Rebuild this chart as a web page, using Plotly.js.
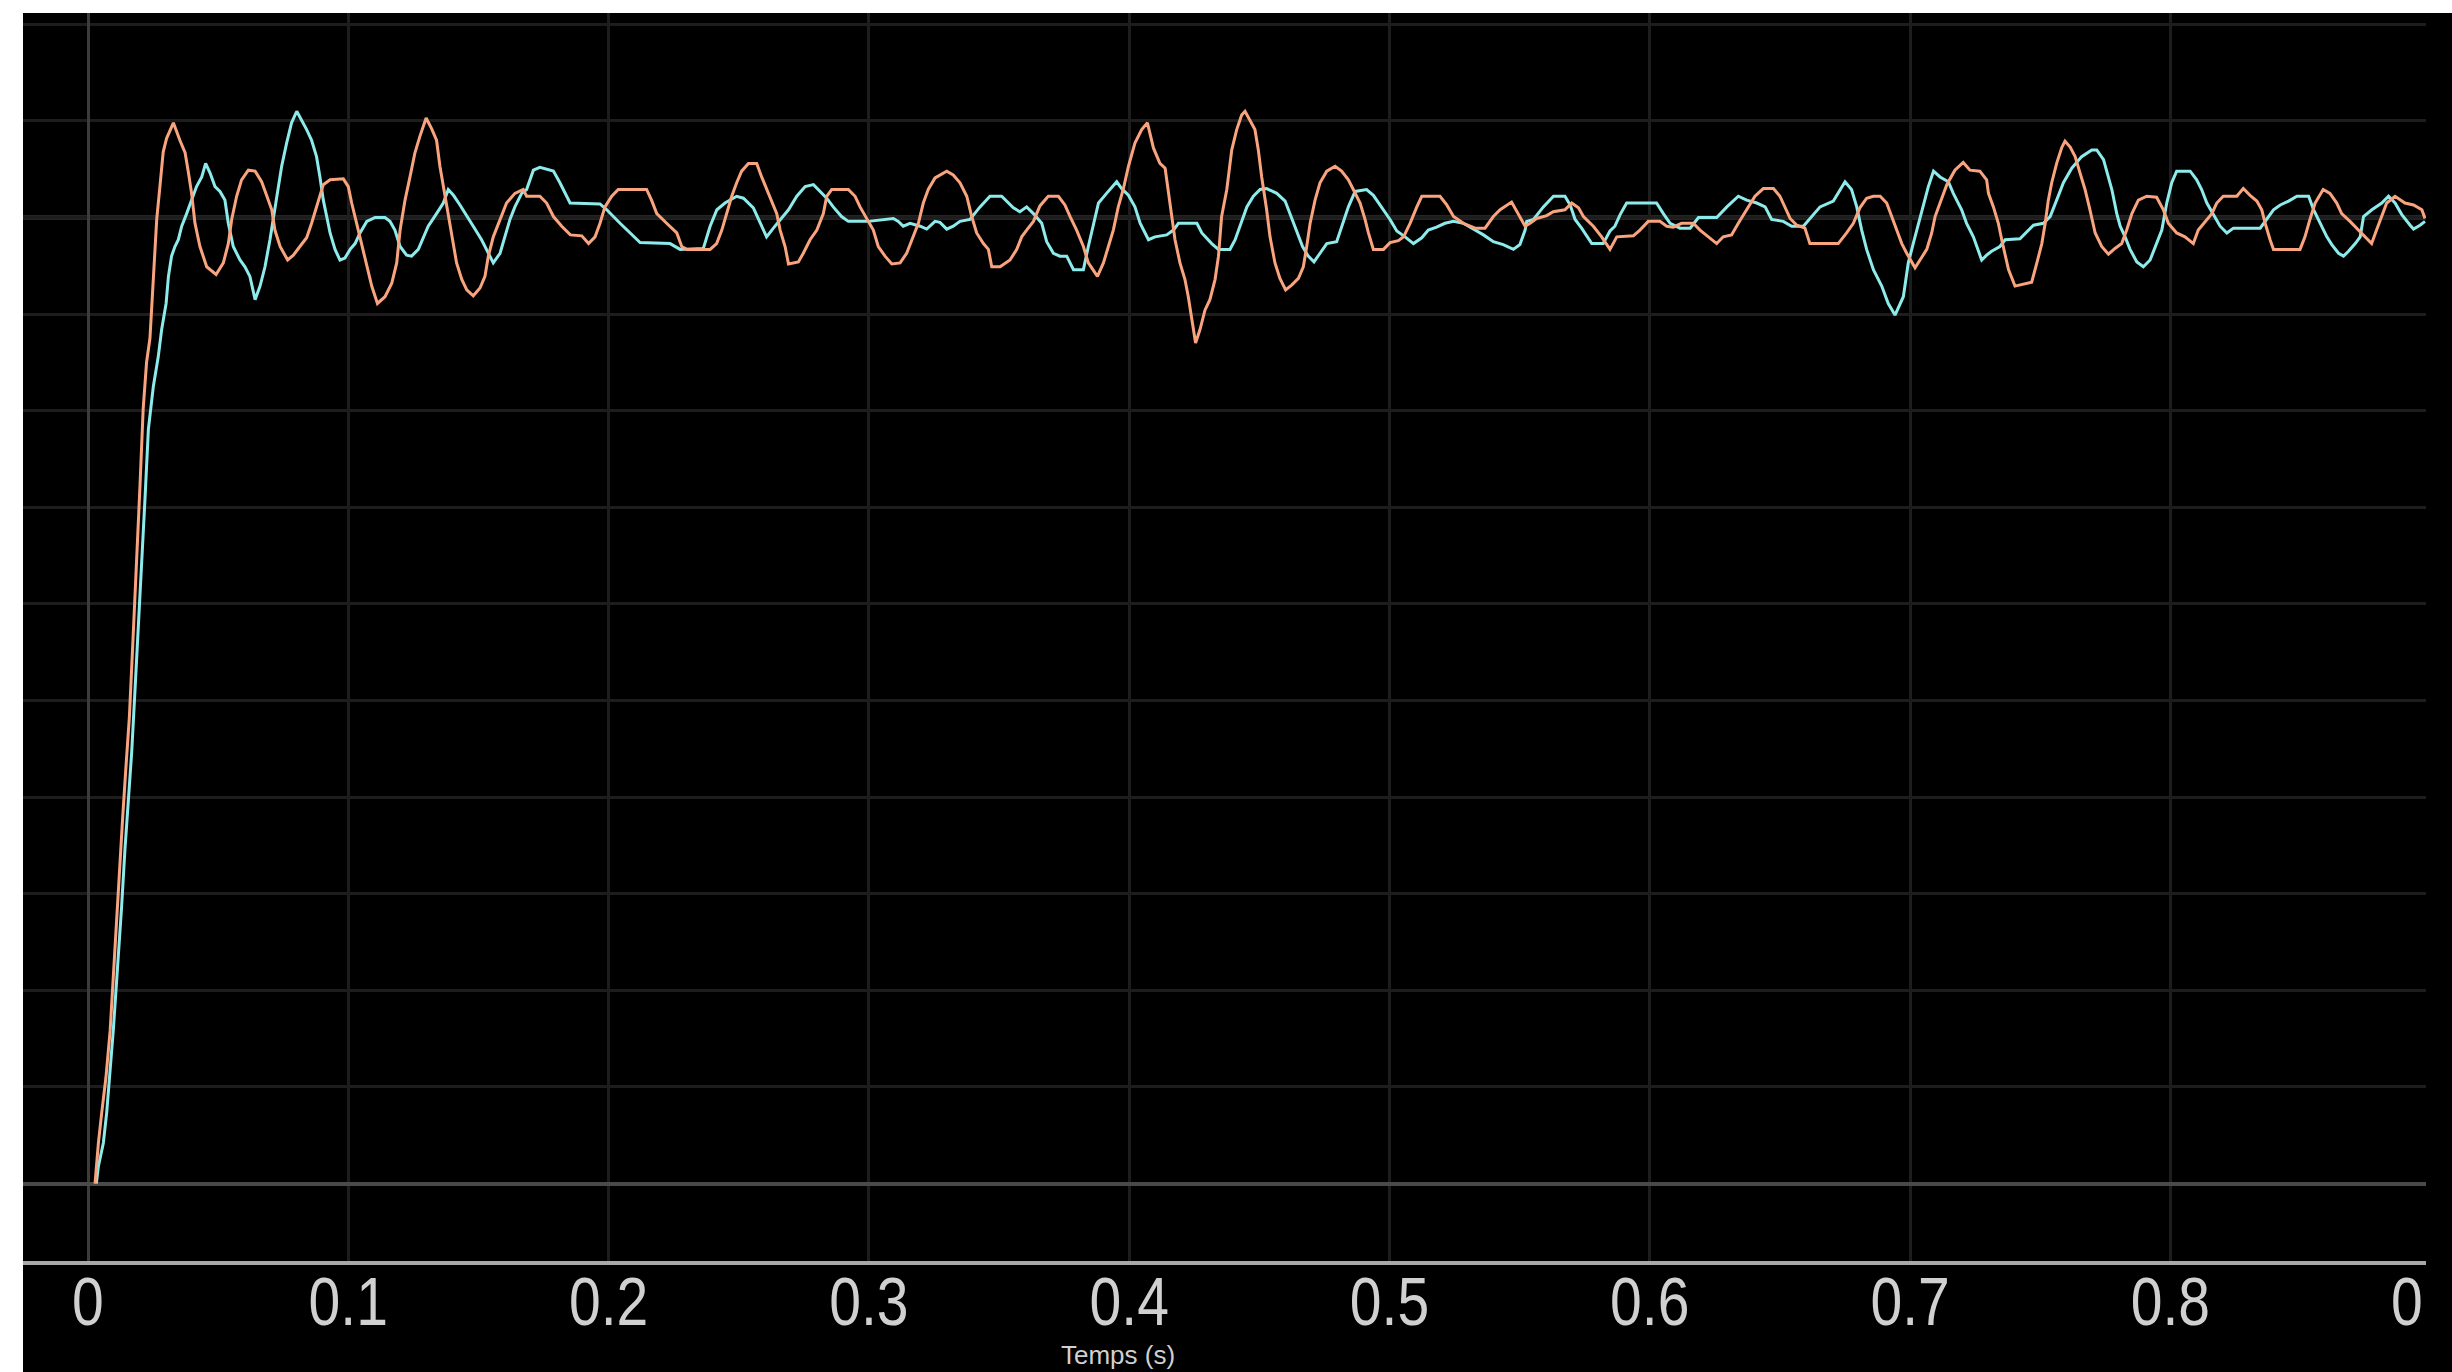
<!DOCTYPE html>
<html>
<head>
<meta charset="utf-8">
<script src="https://cdn.plot.ly/plotly-3.0.1.min.js"></script>
<style>
  html, body { margin: 0; padding: 0; background: #ffffff; overflow: hidden; }
  #bg { position: absolute; left: 23px; top: 13px; right: 0; bottom: 0; background: #000; }
  #clip { position: absolute; left: 23px; top: 13px; width: 2403px; height: 1359px; overflow: hidden; }
  #chart { width: 2440px; height: 1359px; }
</style>
</head>
<body>
<div id="bg"></div>
<div id="clip"><div id="chart"></div></div>
<script>
// ---- Data ----
const xTickStep = 0.1;
const setpoint = 1;
const xAxisTitle = "Temps (s)";

// Series 1 (orange)
const tOrange = [
0.0027,0.0040,0.0053,0.0069,0.0085,0.0097,0.0110,0.0120,0.0133,0.0146,0.0159,0.0172,0.0187,0.0200,0.0212,0.0225,0.0238,
0.0251,0.0264,0.0277,0.0289,0.0302,0.0328,0.0353,0.0373,0.0385,0.0398,0.0411,0.0430,0.0456,0.0492,0.0520,0.0539,0.0552,
0.0571,0.0590,0.0616,0.0642,0.0667,0.0686,0.0706,0.0718,0.0738,0.0767,0.0789,0.0814,0.0840,0.0859,0.0878,0.0904,0.0930,
0.0981,0.1000,0.1013,0.1032,0.1051,0.1071,0.1090,0.1112,0.1141,0.1167,0.1186,0.1199,0.1218,0.1237,0.1256,0.1275,0.1299,
0.1320,0.1339,0.1352,0.1365,0.1378,0.1397,0.1416,0.1436,0.1455,0.1480,0.1506,0.1525,0.1538,0.1557,0.1583,0.1608,0.1640,
0.1672,0.1685,0.1736,0.1762,0.1788,0.1820,0.1853,0.1897,0.1923,0.1948,0.1967,0.1986,0.2012,0.2037,0.2146,0.2165,0.2185,
0.2223,0.2262,0.2281,0.2300,0.2390,0.2415,0.2435,0.2454,0.2473,0.2492,0.2511,0.2537,0.2569,0.2588,0.2607,0.2627,0.2646,
0.2659,0.2678,0.2691,0.2729,0.2748,0.2774,0.2800,0.2825,0.2838,0.2857,0.2921,0.2947,0.2966,0.2991,0.3017,0.3036,0.3062,
0.3088,0.3120,0.3145,0.3171,0.3190,0.3209,0.3228,0.3254,0.3299,0.3324,0.3350,0.3376,0.3395,0.3414,0.3440,0.3459,0.3472,
0.3504,0.3542,0.3568,0.3587,0.3606,0.3632,0.3657,0.3689,0.3728,0.3753,0.3773,0.3798,0.3824,0.3843,0.3878,0.3901,0.3920,
0.3939,0.3958,0.3977,0.3997,0.4022,0.4048,0.4070,0.4093,0.4118,0.4138,0.4150,0.4163,0.4176,0.4195,0.4214,0.4227,0.4240,
0.4255,0.4272,0.4291,0.4310,0.4330,0.4343,0.4355,0.4375,0.4394,0.4413,0.4432,0.4445,0.4464,0.4483,0.4496,0.4509,0.4528,
0.4541,0.4560,0.4579,0.4601,0.4624,0.4650,0.4669,0.4682,0.4695,0.4714,0.4733,0.4759,0.4791,0.4816,0.4842,0.4861,0.4887,
0.4906,0.4919,0.4938,0.4977,0.5002,0.5034,0.5054,0.5079,0.5105,0.5124,0.5194,0.5220,0.5246,0.5284,0.5329,0.5367,0.5399,
0.5425,0.5469,0.5495,0.5521,0.5540,0.5565,0.5604,0.5629,0.5674,0.5700,0.5726,0.5745,0.5783,0.5815,0.5847,0.5873,0.5937,
0.5962,0.5994,0.6039,0.6065,0.6090,0.6122,0.6167,0.6193,0.6225,0.6257,0.6282,0.6314,0.6340,0.6372,0.6404,0.6436,0.6475,
0.6500,0.6520,0.6539,0.6565,0.6596,0.6615,0.6724,0.6756,0.6782,0.6807,0.6833,0.6859,0.6885,0.6910,0.6929,0.6948,0.6968,
0.6987,0.7019,0.7038,0.7064,0.7083,0.7096,0.7115,0.7141,0.7172,0.7204,0.7230,0.7268,0.7294,0.7301,0.7320,0.7339,0.7352,
0.7365,0.7378,0.7403,0.7467,0.7487,0.7506,0.7519,0.7531,0.7544,0.7563,0.7582,0.7595,0.7615,0.7634,0.7653,0.7672,0.7691,
0.7711,0.7736,0.7762,0.7787,0.7813,0.7832,0.7852,0.7877,0.7909,0.7947,0.7973,0.7992,0.8024,0.8056,0.8088,0.8107,0.8133,
0.8159,0.8178,0.8203,0.8255,0.8280,0.8306,0.8332,0.8351,0.8364,0.8383,0.8396,0.8498,0.8517,0.8536,0.8556,0.8587,0.8613,
0.8639,0.8658,0.8690,0.8716,0.8747,0.8773,0.8792,0.8812,0.8831,0.8863,0.8901,0.8934,0.8966,0.8978
];
const yOrange = [
0.000,0.042,0.074,0.110,0.158,0.215,0.271,0.325,0.378,0.432,0.483,0.558,0.643,0.724,0.802,0.850,0.875,
0.934,0.998,1.034,1.068,1.082,1.098,1.080,1.067,1.048,1.025,0.994,0.970,0.949,0.941,0.953,0.973,0.998,
1.022,1.039,1.049,1.048,1.037,1.023,1.008,0.987,0.970,0.956,0.961,0.970,0.979,0.994,1.011,1.034,1.039,
1.040,1.032,1.015,0.994,0.973,0.949,0.929,0.911,0.918,0.932,0.953,0.987,1.018,1.042,1.067,1.084,1.103,
1.092,1.080,1.053,1.032,1.011,0.984,0.953,0.936,0.925,0.919,0.927,0.939,0.960,0.980,0.998,1.015,1.025,
1.029,1.022,1.022,1.015,1.001,0.991,0.982,0.981,0.973,0.980,0.994,1.011,1.022,1.029,1.029,1.018,1.004,
0.994,0.984,0.970,0.967,0.967,0.973,0.987,1.004,1.022,1.036,1.048,1.056,1.056,1.042,1.029,1.015,1.004,
0.987,0.970,0.952,0.954,0.963,0.977,0.987,1.004,1.022,1.029,1.029,1.022,1.011,0.999,0.987,0.970,0.960,
0.952,0.953,0.963,0.980,0.994,1.015,1.029,1.041,1.048,1.044,1.036,1.022,1.001,0.984,0.973,0.967,0.949,
0.949,0.956,0.967,0.980,0.987,0.996,1.012,1.022,1.022,1.013,1.001,0.987,0.970,0.953,0.939,0.953,0.970,
0.987,1.011,1.029,1.053,1.077,1.091,1.098,1.072,1.056,1.051,1.029,1.001,0.977,0.953,0.936,0.918,0.894,
0.870,0.884,0.904,0.915,0.936,0.960,1.001,1.029,1.070,1.091,1.106,1.110,1.101,1.091,1.070,1.042,1.008,
0.980,0.953,0.937,0.925,0.930,0.937,0.949,0.970,0.994,1.018,1.036,1.048,1.053,1.048,1.039,1.029,1.015,
0.998,0.984,0.967,0.967,0.974,0.976,0.980,0.994,1.011,1.022,1.022,1.013,1.001,0.994,0.989,0.989,1.001,
1.008,1.016,1.004,0.991,0.994,0.999,1.002,1.006,1.008,1.015,1.010,1.001,0.991,0.980,0.967,0.980,0.981,
0.987,0.996,0.996,0.991,0.990,0.994,0.994,0.987,0.980,0.973,0.980,0.982,0.994,1.008,1.022,1.030,1.030,
1.022,1.011,0.999,0.992,0.989,0.973,0.973,0.984,0.994,1.010,1.020,1.022,1.022,1.015,1.001,0.987,0.973,
0.963,0.948,0.956,0.967,0.984,1.001,1.015,1.034,1.049,1.057,1.049,1.048,1.039,1.025,1.011,0.994,0.977,
0.963,0.946,0.929,0.933,0.953,0.973,0.994,1.018,1.036,1.056,1.072,1.079,1.073,1.063,1.046,1.029,1.008,
0.984,0.970,0.962,0.968,0.973,0.987,1.004,1.018,1.022,1.021,1.008,0.994,0.984,0.980,0.973,0.987,0.996,
1.004,1.015,1.022,1.022,1.030,1.023,1.017,1.008,0.994,0.977,0.967,0.967,0.980,0.998,1.015,1.029,1.025,
1.015,1.004,0.996,0.989,0.980,0.973,0.987,1.001,1.015,1.022,1.015,1.013,1.008,0.999
];

// Series 2 (cyan)
const tCyan = [
0.0032,0.0040,0.0059,0.0072,0.0097,0.0116,0.0129,0.0142,0.0155,0.0168,0.0181,0.0193,0.0206,0.0219,0.0232,0.0251,0.0270,
0.0283,0.0300,0.0309,0.0321,0.0334,0.0347,0.0360,0.0379,0.0398,0.0417,0.0437,0.0452,0.0469,0.0488,0.0507,0.0526,0.0539,
0.0558,0.0584,0.0603,0.0622,0.0642,0.0661,0.0680,0.0699,0.0712,0.0731,0.0744,0.0763,0.0782,0.0802,0.0821,0.0840,0.0859,
0.0878,0.0891,0.0904,0.0917,0.0930,0.0949,0.0968,0.0987,0.1007,0.1026,0.1045,0.1071,0.1103,0.1141,0.1160,0.1179,0.1199,
0.1224,0.1243,0.1269,0.1288,0.1307,0.1339,0.1365,0.1384,0.1404,0.1429,0.1455,0.1480,0.1512,0.1532,0.1557,0.1583,0.1602,
0.1621,0.1640,0.1666,0.1685,0.1711,0.1736,0.1788,0.1813,0.1852,0.1967,0.1993,0.2044,0.2121,0.2236,0.2275,0.2364,0.2390,
0.2416,0.2447,0.2492,0.2518,0.2556,0.2582,0.2607,0.2633,0.2659,0.2691,0.2723,0.2755,0.2787,0.2812,0.2838,0.2863,0.2895,
0.2921,0.2998,0.3094,0.3113,0.3132,0.3158,0.3197,0.3222,0.3254,0.3273,0.3299,0.3324,0.3350,0.3388,0.3427,0.3465,0.3510,
0.3555,0.3580,0.3606,0.3632,0.3664,0.3683,0.3709,0.3734,0.3760,0.3786,0.3824,0.3843,0.3862,0.3882,0.3913,0.3952,0.3971,
0.3997,0.4022,0.4042,0.4074,0.4099,0.4144,0.4170,0.4189,0.4260,0.4279,0.4317,0.4343,0.4387,0.4407,0.4426,0.4452,0.4477,
0.4503,0.4528,0.4567,0.4599,0.4618,0.4643,0.4666,0.4688,0.4710,0.4733,0.4759,0.4797,0.4816,0.4842,0.4868,0.4912,0.4938,
0.4970,0.5002,0.5028,0.5060,0.5092,0.5124,0.5149,0.5181,0.5213,0.5246,0.5284,0.5335,0.5361,0.5399,0.5437,0.5476,0.5501,
0.5521,0.5527,0.5553,0.5591,0.5630,0.5674,0.5694,0.5713,0.5738,0.5777,0.5821,0.5847,0.5866,0.5886,0.5911,0.6026,0.6052,
0.6078,0.6116,0.6155,0.6187,0.6257,0.6296,0.6340,0.6372,0.6411,0.6443,0.6468,0.6513,0.6545,0.6590,0.6628,0.6654,0.6705,
0.6731,0.6750,0.6775,0.6795,0.6814,0.6833,0.6859,0.6891,0.6916,0.6942,0.6974,0.6993,0.7012,0.7032,0.7051,0.7070,0.7090,
0.7115,0.7147,0.7166,0.7198,0.7217,0.7243,0.7275,0.7294,0.7313,0.7345,0.7365,0.7422,0.7474,0.7512,0.7538,0.7563,0.7589,
0.7621,0.7659,0.7698,0.7717,0.7743,0.7762,0.7775,0.7794,0.7807,0.7826,0.7845,0.7871,0.7896,0.7922,0.7948,0.7967,0.7986,
0.8005,0.8024,0.8076,0.8101,0.8120,0.8140,0.8165,0.8191,0.8217,0.8242,0.8345,0.8371,0.8396,0.8422,0.8454,0.8486,0.8531,
0.8550,0.8576,0.8601,0.8620,0.8646,0.8665,0.8684,0.8710,0.8729,0.8742,0.8774,0.8812,0.8838,0.8863,0.8889,0.8921,0.8934,
0.8959,0.8978
];
const yCyan = [
0.000,0.018,0.042,0.074,0.158,0.232,0.286,0.346,0.399,0.447,0.513,0.572,0.632,0.709,0.781,0.825,0.856,
0.884,0.911,0.939,0.960,0.970,0.977,0.991,1.004,1.018,1.032,1.042,1.056,1.046,1.032,1.027,1.018,0.994,
0.970,0.956,0.949,0.939,0.915,0.929,0.949,0.977,0.998,1.029,1.053,1.077,1.098,1.110,1.101,1.091,1.080,
1.063,1.042,1.018,1.001,0.984,0.967,0.956,0.958,0.967,0.973,0.984,0.996,1.000,1.000,0.996,0.987,0.970,
0.961,0.960,0.967,0.980,0.991,1.004,1.015,1.029,1.023,1.013,1.001,0.991,0.977,0.967,0.953,0.963,0.980,
0.998,1.011,1.025,1.029,1.049,1.052,1.048,1.036,1.015,1.014,1.008,0.994,0.974,0.973,0.967,0.968,0.991,
1.008,1.015,1.022,1.020,1.010,0.994,0.980,0.989,0.998,1.008,1.022,1.032,1.034,1.027,1.020,1.011,1.001,
0.996,0.996,0.999,0.996,0.991,0.994,0.991,0.988,0.996,0.995,0.988,0.991,0.996,0.998,1.011,1.022,1.022,
1.010,1.006,1.011,1.004,0.994,0.975,0.963,0.960,0.960,0.946,0.946,0.970,0.991,1.015,1.025,1.037,1.030,
1.023,1.011,0.994,0.977,0.980,0.982,0.987,0.994,0.994,0.984,0.973,0.967,0.967,0.977,0.991,1.011,1.022,
1.029,1.030,1.025,1.017,1.004,0.987,0.970,0.960,0.954,0.963,0.973,0.975,0.991,1.011,1.027,1.029,1.023,
1.010,0.998,0.986,0.980,0.973,0.979,0.987,0.990,0.994,0.996,0.994,0.986,0.982,0.975,0.972,0.967,0.972,
0.987,0.996,0.998,1.011,1.022,1.022,1.013,0.998,0.989,0.973,0.973,0.986,0.991,1.003,1.015,1.015,1.004,
0.994,0.989,0.989,1.000,1.000,1.011,1.022,1.018,1.015,1.011,0.998,0.996,0.991,0.991,1.003,1.011,1.017,
1.029,1.037,1.029,1.011,0.987,0.967,0.946,0.929,0.911,0.899,0.918,0.953,0.973,0.994,1.015,1.032,1.048,
1.042,1.037,1.025,1.008,0.994,0.980,0.956,0.961,0.965,0.970,0.977,0.978,0.992,0.994,1.001,1.018,1.036,
1.051,1.063,1.070,1.070,1.060,1.042,1.029,1.004,0.991,0.980,0.967,0.954,0.949,0.956,0.973,0.987,1.015,
1.036,1.048,1.048,1.039,1.029,1.015,1.003,0.991,0.984,0.989,0.989,0.999,1.008,1.013,1.017,1.022,1.022,
1.008,0.994,0.980,0.972,0.963,0.960,0.965,0.973,0.980,1.001,1.008,1.015,1.022,1.015,1.003,0.992,0.988,
0.992,0.996
];

// ---- Chart ----
const traces = [
  { x: tCyan, y: yCyan, type: 'scatter', mode: 'lines', name: 'Série 2',
    line: { color: '#8DEBEB', width: 3, shape: 'linear' }, hoverinfo: 'skip' },
  { x: tOrange, y: yOrange, type: 'scatter', mode: 'lines', name: 'Série 1',
    line: { color: '#F9A47E', width: 3, shape: 'linear' }, hoverinfo: 'skip' }
];

const layout = {
  width: 2440, height: 1359,
  margin: { l: 0, r: 23, t: 0, b: 111, pad: 0 },
  paper_bgcolor: '#000000', plot_bgcolor: '#000000',
  showlegend: false,
  xaxis: {
    range: [-0.02497, 0.90357], tick0: 0, dtick: xTickStep,
    showgrid: true, gridcolor: '#1d1d1d', gridwidth: 3,
    zeroline: true, zerolinecolor: '#3c3c3c', zerolinewidth: 3,
    showline: true, linecolor: '#a8a8a8', linewidth: 4,
    ticks: '', ticklabelstandoff: -22, ticklabeloverflow: 'allow',
    tickfont: { family: 'Liberation Sans, Arial, sans-serif', size: 68, color: '#d0d0d0' },
    fixedrange: true
  },
  yaxis: {
    range: [-0.0802, 1.2117], tick0: 0, dtick: 0.1,
    showgrid: true, gridcolor: '#1d1d1d', gridwidth: 3,
    zeroline: true, zerolinecolor: '#4a4a4a', zerolinewidth: 4,
    showline: false, showticklabels: false, ticks: '',
    fixedrange: true
  },
  shapes: [
    { type: 'line', xref: 'paper', x0: 0, x1: 1, yref: 'y', y0: setpoint, y1: setpoint,
      line: { color: '#4a4a4a', width: 4 }, layer: 'below' }
  ],
  annotations: [
    { text: xAxisTitle, xref: 'paper', x: 0.453, xanchor: 'center',
      yref: 'paper', y: -0.0885, yanchor: 'bottom', showarrow: false, borderpad: 0,
      font: { family: 'Liberation Sans, Arial, sans-serif', size: 26, color: '#d0d0d0' } }
  ]
};

Plotly.newPlot('chart', traces, layout, { displayModeBar: false, staticPlot: true }).then(function (gd) {
  // Narrow the tick label glyphs horizontally (the source uses a condensed face).
  gd.querySelectorAll('.xtick text').forEach(function (el) {
    const tr = el.getAttribute('transform') || '';
    el.setAttribute('transform', tr + ' scale(0.84,1)');
  });
});
</script>
</body>
</html>
